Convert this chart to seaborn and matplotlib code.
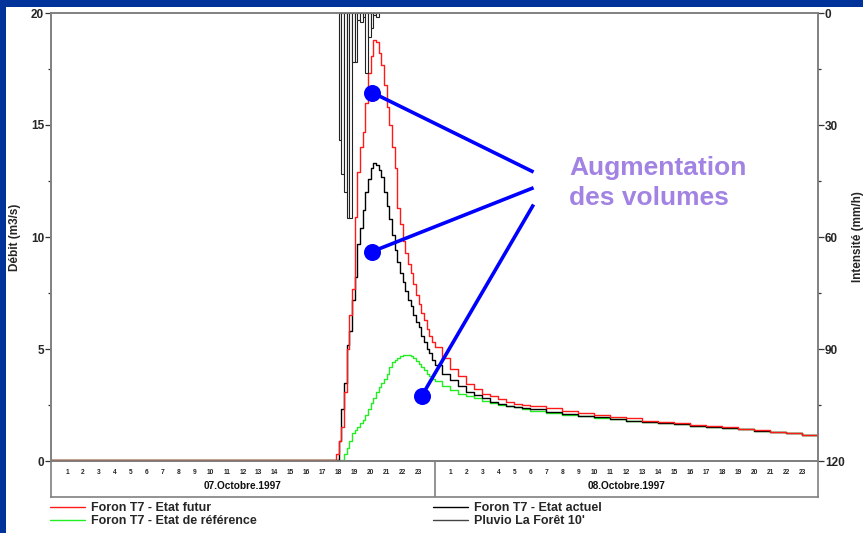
import numpy as np
import matplotlib
matplotlib.use("Agg")
import matplotlib.pyplot as plt
import seaborn as sns
from matplotlib.patches import Rectangle
from matplotlib.lines import Line2D
from matplotlib.ticker import MultipleLocator

# ---------------- data ----------------
# time axis in hours from 07.10.1997 00:00
hours_10min = [round(17 + 5 / 6 + k / 6, 4) for k in range(38)]   # 17:50 .. 24:00
hours_30min = [24.5, 25, 25.5, 26, 26.5, 27, 27.5, 28, 28.5, 29, 29.5, 30]
hours_1h = [31, 32, 33, 34, 35, 36, 37, 38, 39, 40, 41, 42, 43, 44, 45, 46, 47, 48]
time_h = [0.0] + hours_10min + hours_30min + hours_1h

q_futur = ([0.05] +
           [0.3, 0.9, 1.5, 3.1, 5.0, 6.5, 7.7, 10.9, 12.9, 14.0, 14.7, 16.0, 17.3,
            18.1, 18.8, 18.7, 18.2, 17.7, 16.8, 15.8, 15.0, 14.0, 13.1, 11.3, 10.6,
            9.8, 9.3, 8.8, 8.4, 7.9, 7.4, 7.0, 6.6, 6.3, 5.9, 5.6, 5.3, 5.1] +
           [4.6, 4.1, 3.8, 3.45, 3.2, 3.0, 2.9, 2.75, 2.65, 2.55, 2.5, 2.45] +
           [2.35, 2.25, 2.15, 2.05, 1.95, 1.9, 1.8, 1.75, 1.7, 1.6, 1.55, 1.5,
            1.45, 1.38, 1.3, 1.25, 1.18, 1.1])

q_actuel = ([0.05] +
            [0.05, 0.9, 2.3, 3.5, 5.2, 5.8, 7.2, 8.2, 9.7, 10.4, 11.2, 12.0, 12.6,
             13.1, 13.3, 13.2, 13.0, 12.7, 12.0, 11.4, 10.8, 10.1, 9.4, 8.9, 8.4,
             8.0, 7.6, 7.2, 6.9, 6.5, 6.2, 6.0, 5.6, 5.3, 5.0, 4.8, 4.5, 4.3] +
            [3.9, 3.6, 3.35, 3.1, 2.95, 2.8, 2.65, 2.55, 2.45, 2.4, 2.35, 2.3] +
            [2.2, 2.1, 2.0, 1.95, 1.88, 1.8, 1.75, 1.7, 1.63, 1.58, 1.52, 1.47,
             1.42, 1.35, 1.3, 1.23, 1.17, 1.1])

q_reference = ([0.05] +
               [0.05, 0.05, 0.05, 0.3, 0.6, 0.9, 1.25, 1.4, 1.5, 1.7, 1.85, 2.05, 2.3,
                2.6, 2.8, 3.1, 3.3, 3.5, 3.65, 3.9, 4.2, 4.4, 4.5, 4.6, 4.68,
                4.73, 4.75, 4.73, 4.7, 4.6, 4.45, 4.35, 4.2, 4.05, 3.9, 3.8, 3.65, 3.55] +
               [3.35, 3.15, 3.0, 2.9, 2.8, 2.7, 2.6, 2.5, 2.45, 2.4, 2.3, 2.25] +
               [2.15, 2.05, 2.0, 1.93, 1.87, 1.8, 1.75, 1.7, 1.63, 1.58, 1.52, 1.47,
                1.42, 1.36, 1.3, 1.24, 1.18, 1.12])

# rainfall, 10-minute blocks starting 07.10 18:00 (mm/h)
rain_start = [round(18 + k / 6, 4) for k in range(15)]
rain_int = [34, 43, 48, 55, 55, 13, 13, 2, 2.5, 1, 16, 6.5, 4, 0.5, 1]

hour_ticks = [h for h in range(1, 48) if h != 24]
hour_labels = [str(h % 24) for h in hour_ticks]
day_labels = ["07.Octobre.1997", "08.Octobre.1997"]
day_centers = [12, 36]

legend_labels = ["Foron T7 - Etat futur", "Foron T7 - Etat de référence",
                 "Foron T7 - Etat actuel", "Pluvio La Forêt 10'"]

# callout (hour, débit)
dots_h = [20.1, 20.1, 23.2]
dots_q = [16.45, 9.35, 2.9]
ends_h = [30.2, 30.2, 30.2]
ends_q = [12.9, 12.2, 11.45]
callout_text = "Augmentation\ndes volumes"

# ---------------- style ----------------
sns.set_style("white")
narrow = ["Liberation Sans Narrow", "Liberation Sans", "DejaVu Sans"]
plt.rcParams["font.family"] = narrow

W, H = 863, 533
fig = plt.figure(figsize=(W / 100, H / 100), dpi=100)
fig.patch.set_facecolor("#003399")
fig.patches.append(Rectangle((6 / W, 0), 1 - 6 / W, 1 - 7 / H, transform=fig.transFigure,
                             facecolor="white", edgecolor="none", zorder=-5))

L, R, T, B = 51, 818, 13, 461
grey = "#808080"

# date box under the plot
ax_box = fig.add_axes([L / W, (H - 497) / H, (R - L) / W, (497 - B) / H])
ax_box.set_xlim(0, 48)
ax_box.set_ylim(0, 1)
ax_box.set_xticks([])
ax_box.set_yticks([])
for s in ax_box.spines.values():
    s.set_color(grey)
    s.set_linewidth(1.2)
ax_box.axvline(24, color=grey, lw=1.2)
for c, lab in zip(day_centers, day_labels):
    ax_box.text(c, 0.3, lab, ha="center", va="center", fontsize=7.3,
                fontweight="bold", color="#111111")

ax = fig.add_axes([L / W, (H - B) / H, (R - L) / W, (B - T) / H])
ax.set_facecolor("none")
sns.lineplot(x=time_h, y=q_actuel, ax=ax, color="#000000", lw=1.0,
             drawstyle="steps-post", legend=False, zorder=3)
sns.lineplot(x=time_h, y=q_reference, ax=ax, color="#22ee22", lw=1.0,
             drawstyle="steps-post", legend=False, zorder=2)
sns.lineplot(x=time_h, y=q_futur, ax=ax, color="#ff1a1a", lw=1.0,
             drawstyle="steps-post", legend=False, zorder=4)
ax.set_xlim(0, 48)
ax.set_ylim(0, 20)
ax.set_xticks(hour_ticks)
ax.set_xticklabels(hour_labels, fontsize=4.8, fontweight="bold")
ax.tick_params(axis="x", direction="out", length=3.5, pad=2.5, width=0.8, color="#333333")
ax.set_yticks([0, 5, 10, 15, 20])
ax.yaxis.set_minor_locator(MultipleLocator(2.5))
ax.tick_params(axis="y", which="major", direction="out", length=4, width=0.9,
               color="#333333", labelsize=8.5, pad=1)
ax.tick_params(axis="y", which="minor", direction="out", length=2.5, width=0.9, color="#333333", left=True)
for t in ax.get_yticklabels():
    t.set_fontweight("bold")
ax.set_xlabel("")
ax.set_ylabel("Débit (m3/s)", fontsize=8.5, fontweight="bold")
ax.yaxis.set_label_coords((21 - L) / (R - L), 0.5)
for s in ax.spines.values():
    s.set_color(grey)
    s.set_linewidth(1.2)

ax2 = ax.twinx()
ax2.bar(rain_start, rain_int, width=1 / 6, align="edge", facecolor="white",
        edgecolor="#222222", linewidth=0.8, zorder=1)
ax2.set_ylim(120, 0)
ax2.set_yticks([0, 30, 60, 90, 120])
ax2.yaxis.set_minor_locator(MultipleLocator(15))
ax2.tick_params(axis="y", which="major", direction="out", length=4, width=0.9,
                color="#333333", labelsize=8.5, pad=1)
ax2.tick_params(axis="y", which="minor", direction="out", length=2.5, width=0.9,
                color="#333333", right=True)
for t in ax2.get_yticklabels():
    t.set_fontweight("bold")
ax2.set_ylabel("Intensité (mm/h)", fontsize=8.5, fontweight="bold")
ax2.yaxis.set_label_coords((852.5 - L) / (R - L), 0.5)
for s in ax2.spines.values():
    s.set_color(grey)
    s.set_linewidth(1.2)
ax2.grid(False)
ax.grid(False)

# callout
ax3 = ax.twinx()
ax3.set_ylim(0, 20)
ax3.axis("off")
for dh, dq, eh, eq in zip(dots_h, dots_q, ends_h, ends_q):
    ax3.plot([dh, eh], [dq, eq], color="#0000ff", lw=2.6, solid_capstyle="butt", zorder=6)
ax3.scatter(dots_h, dots_q, s=150, color="#0000ff", zorder=7, linewidths=0)
fig.text(569 / W, 1 - 183 / H, callout_text, ha="left", va="center", fontsize=19,
         fontweight="bold", color="#a283e3", family=["Liberation Sans", "DejaVu Sans"],
         linespacing=1.3)

# legend
h_fut = Line2D([], [], color="#ff1a1a", lw=1)
h_ref = Line2D([], [], color="#22ee22", lw=1)
h_act = Line2D([], [], color="#000000", lw=1)
h_plu = Line2D([], [], color="#444444", lw=1)
leg_kw = dict(loc="upper left", frameon=False, borderpad=0, borderaxespad=0,
              handlelength=2.8, handletextpad=0.5, labelspacing=0.12,
              prop={"family": narrow, "weight": "bold", "size": 9})
fig.legend(handles=[h_fut, h_ref], labels=legend_labels[:2],
           bbox_to_anchor=(50 / W, 1 - 502 / H), **leg_kw)
fig.legend(handles=[h_act, h_plu], labels=legend_labels[2:],
           bbox_to_anchor=(433 / W, 1 - 502 / H), **leg_kw)

fig.savefig("out.png", dpi=100, facecolor=fig.get_facecolor())
